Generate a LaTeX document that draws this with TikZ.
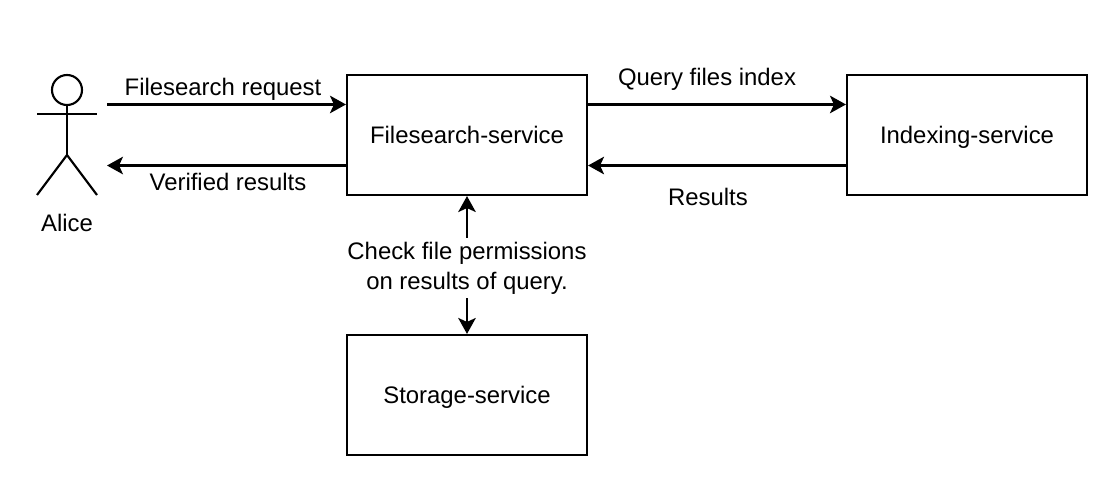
\documentclass[tikz,border=0pt]{standalone}
\usepackage{fontspec}
\setmainfont{Liberation Sans}
\usetikzlibrary{arrows.meta,positioning,calc}

\begin{document}
\begin{tikzpicture}[
  font=\fontsize{17}{21.3}\selectfont,
  svc/.style={draw,line width=1.5pt,minimum width=6cm,minimum height=3cm,inner sep=0pt,
              text height=12.3pt,text depth=0pt},
  lbl/.style={inner sep=0pt,align=center},
  stick/.style={line width=1.5pt},
  flow/.style={line width=1.5pt,-{Stealth[length=4mm,width=4.4mm,inset=1mm]}}
]
\useasboundingbox (0,0) rectangle (28,12.55);

\node[svc] (file) at (11.675,9.175) {Filesearch-service};
\node[svc] (index) at (24.175,9.175) {Indexing-service};
\node[svc] (store) at (11.675,2.675) {Storage-service};

% actor
\node[draw,stick,circle,minimum size=0.75cm,inner sep=0pt] (head) at (1.675,10.3) {};
\coordinate (hip) at (1.675,8.675);
\coordinate (armL) at (0.925,9.7);
\coordinate (armR) at (2.425,9.7);
\coordinate (footL) at (0.925,7.675);
\coordinate (footR) at (2.425,7.675);
\draw[stick] (head) -- (hip);
\draw[stick] (armL) -- (armR);
\draw[stick] (footL) -- (hip) -- (footR);
\node[lbl] (alice) at (1.675,6.975) {Alice};

\coordinate (fileA) at ($(file.north west)!0.25!(file.south west)$);
\coordinate (fileB) at ($(file.north west)!0.75!(file.south west)$);
\coordinate (fileC) at ($(file.north east)!0.25!(file.south east)$);
\coordinate (fileD) at ($(file.north east)!0.75!(file.south east)$);
\coordinate (indexA) at (index.west |- fileC);
\coordinate (indexB) at (index.west |- fileD);
\coordinate (aliceOut) at (2.675,0 |- fileA);
\coordinate (aliceIn) at (2.675,0 |- fileB);

\draw[flow] (aliceOut) -- (fileA);
\draw[flow] (fileB) -- (aliceIn);
\draw[flow] (fileC) -- (indexA);
\draw[flow] (indexB) -- (fileD);

\node[lbl] (req) at (5.575,10.325) {Filesearch request};
\node[lbl] (ver) at (5.7,8.0) {Verified results};
\node[lbl] (query) at (17.675,10.575) {Query files index};
\node[lbl] (res) at (17.7,7.625) {Results};

\node[lbl,inner ysep=0.1cm] (check) at (11.675,5.85) {Check file permissions\\on results of query.};
\draw[flow] (check.north) -- (file.south);
\draw[flow] (check.south) -- (store.north);
\end{tikzpicture}
\end{document}
